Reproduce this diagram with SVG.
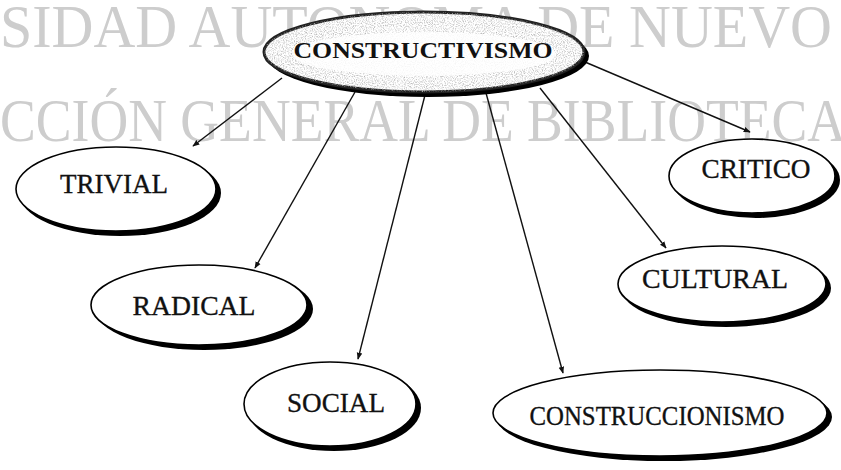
<svg xmlns="http://www.w3.org/2000/svg" width="841" height="470" viewBox="0 0 841 470">
<defs>
<style>
.wm{font-family:"Liberation Serif","Times New Roman",serif;font-size:62px;fill:#cdcdcd}
.sh{fill:#000}
.nd{fill:#fff;stroke:#000;stroke-width:1.6}
.lbl{font-family:"Liberation Serif","Times New Roman",serif;font-size:28px;fill:#111;stroke:#111;stroke-width:0.35;text-anchor:middle}
.cn{stroke:#111;stroke-width:1.4;fill:none;marker-end:url(#ah)}
</style>
<marker id="ah" viewBox="0 0 10 10" refX="9" refY="5" markerWidth="7" markerHeight="7" orient="auto" markerUnits="userSpaceOnUse">
<path d="M0,1 L10,5 L0,9 Z" fill="#111"/>
</marker>
<filter id="grain" x="-5%" y="-5%" width="110%" height="110%">
<feTurbulence type="fractalNoise" baseFrequency="0.9" numOctaves="2" seed="3" result="n"/>
<feColorMatrix in="n" type="matrix" values="0 0 0 0 0.45  0 0 0 0 0.45  0 0 0 0 0.45  0 0 0 -2.2 1.25" result="g"/>
<feComposite in="g" in2="SourceGraphic" operator="in"/>
</filter>
</defs>
<g id="watermark">
<text class="wm" x="0" y="47" textLength="832" lengthAdjust="spacingAndGlyphs">SIDAD AUTONOMA DE NUEVO</text>
<text class="wm" x="0" y="141" textLength="846" lengthAdjust="spacingAndGlyphs">CCIÓN GENERAL DE BIBLIOTECA</text>
</g>
<g id="connectors">
<line class="cn" x1="282" y1="78" x2="193" y2="146"/>
<line class="cn" x1="355" y1="92" x2="255" y2="268"/>
<line class="cn" x1="425" y1="95" x2="358" y2="359"/>
<line class="cn" x1="486" y1="93" x2="563" y2="373"/>
<line class="cn" x1="540" y1="88" x2="666" y2="248"/>
<line class="cn" x1="585" y1="62" x2="750" y2="132"/>
</g>
<g id="constructivismo">
<ellipse class="sh" cx="428" cy="56" rx="161" ry="41"/>
<ellipse cx="424" cy="52" rx="160" ry="40" fill="#fff" stroke="#222" stroke-width="3"/>
<ellipse cx="424" cy="52" rx="160" ry="40" fill="#fff" filter="url(#grain)"/>
<ellipse cx="424" cy="54" rx="132" ry="22" fill="#fff" opacity="0.85"/>
<text x="423" y="58" font-family="'Liberation Serif','Times New Roman',serif" font-size="24" font-weight="bold" fill="#111" text-anchor="middle" textLength="259" lengthAdjust="spacingAndGlyphs">CONSTRUCTIVISMO</text>
</g>
<g id="trivial">
<ellipse class="sh" cx="120" cy="193" rx="101" ry="43"/>
<ellipse class="nd" cx="116" cy="189" rx="100" ry="42"/>
<text class="lbl" x="114" y="193" textLength="108" lengthAdjust="spacingAndGlyphs">TRIVIAL</text>
</g>
<g id="radical">
<ellipse class="sh" cx="204" cy="309" rx="109" ry="41"/>
<ellipse class="nd" cx="199" cy="305" rx="108" ry="40"/>
<text class="lbl" x="194" y="315" textLength="123" lengthAdjust="spacingAndGlyphs">RADICAL</text>
</g>
<g id="social">
<ellipse class="sh" cx="334" cy="408" rx="87" ry="43"/>
<ellipse class="nd" cx="330" cy="404" rx="86" ry="42"/>
<text class="lbl" x="336" y="412" textLength="98" lengthAdjust="spacingAndGlyphs">SOCIAL</text>
</g>
<g id="construccionismo">
<ellipse class="sh" cx="664" cy="417" rx="168" ry="44"/>
<ellipse class="nd" cx="660" cy="413" rx="167" ry="43"/>
<text class="lbl" x="657" y="425" font-size="27" textLength="255" lengthAdjust="spacingAndGlyphs">CONSTRUCCIONISMO</text>
</g>
<g id="cultural">
<ellipse class="sh" cx="726" cy="288" rx="105" ry="39"/>
<ellipse class="nd" cx="722" cy="284" rx="104" ry="38"/>
<text class="lbl" x="715" y="288" font-size="26" textLength="146" lengthAdjust="spacingAndGlyphs">CULTURAL</text>
</g>
<g id="critico">
<ellipse class="sh" cx="756" cy="180" rx="84" ry="38"/>
<ellipse class="nd" cx="752" cy="176" rx="83" ry="37"/>
<text class="lbl" x="756" y="178" font-size="26" textLength="109" lengthAdjust="spacingAndGlyphs">CRITICO</text>
</g>
</svg>
